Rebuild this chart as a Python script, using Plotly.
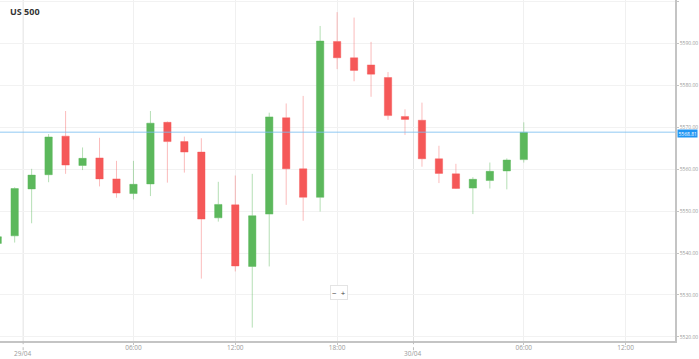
import plotly.graph_objects as go

title = "US 500"
times = ["28/04 22:00", "28/04 23:00", "29/04 00:00", "29/04 01:00", "29/04 02:00", "29/04 03:00",
         "29/04 04:00", "29/04 05:00", "29/04 06:00", "29/04 07:00", "29/04 08:00", "29/04 09:00",
         "29/04 10:00", "29/04 11:00", "29/04 12:00", "29/04 13:00", "29/04 14:00", "29/04 15:00",
         "29/04 16:00", "29/04 17:00", "29/04 18:00", "29/04 19:00", "29/04 20:00", "29/04 21:00",
         "29/04 22:00", "30/04 00:00", "30/04 01:00", "30/04 02:00", "30/04 03:00", "30/04 04:00",
         "30/04 05:00", "30/04 06:00"]
opens = [5542.3, 5544.1, 5555.3, 5558.7, 5567.9, 5560.9, 5562.7, 5557.7, 5554.2, 5556.5, 5571.2,
         5566.6, 5564.1, 5548.4, 5551.5, 5536.8, 5549.3, 5572.3, 5560.1, 5553.3, 5590.5, 5586.6,
         5584.9, 5581.9, 5572.6, 5571.7, 5562.5, 5558.9, 5555.5, 5557.3, 5559.6, 5562.3]
highs = [5544.6, 5555.7, 5560.1, 5568.4, 5573.9, 5565.2, 5567.5, 5562.0, 5562.0, 5573.9, 5571.4,
         5567.8, 5567.4, 5557.0, 5558.5, 5558.9, 5573.5, 5575.7, 5577.5, 5594.2, 5597.5, 5596.2,
         5590.4, 5583.2, 5574.3, 5575.9, 5565.6, 5561.3, 5558.1, 5561.6, 5562.6, 5571.2]
lows = [5541.5, 5542.5, 5547.1, 5556.9, 5558.9, 5559.8, 5555.9, 5553.2, 5552.8, 5553.6, 5556.8,
        5559.2, 5533.9, 5547.5, 5535.6, 5522.2, 5536.8, 5551.5, 5547.7, 5549.9, 5583.9, 5581.0,
        5577.3, 5571.8, 5568.2, 5560.6, 5556.7, 5555.3, 5549.3, 5555.4, 5555.2, 5561.6]
closes = [5543.9, 5555.4, 5558.6, 5567.7, 5561.0, 5562.6, 5557.7, 5554.3, 5556.4, 5571.0, 5566.6,
          5564.1, 5548.1, 5551.6, 5536.9, 5548.9, 5572.5, 5560.1, 5553.3, 5590.6, 5586.6, 5583.6,
          5582.7, 5572.8, 5571.9, 5562.5, 5559.0, 5555.4, 5557.6, 5559.5, 5562.2, 5568.81]

time_tick_pos = [8, 14, 20, 31, 37]
time_tick_text = ["06:00", "12:00", "18:00", "06:00", "12:00"]
date_tick_pos = [1.5, 24.5]
date_tick_text = ["29/04", "30/04"]
y_ticks = [5520, 5530, 5540, 5550, 5560, 5570, 5580, 5590, 5600]

GREEN = "rgb(92,184,92)"
RED = "rgb(245,88,88)"
FONT = "Open Sans"
TICKCOL = "#9a9a9a"

x = list(range(len(times)))

fig = go.Figure()
fig.add_trace(go.Candlestick(
    x=x, open=opens, high=highs, low=lows, close=closes,
    text=times, hoverinfo="text+y",
    increasing=dict(fillcolor=GREEN, line=dict(color="rgba(92,184,92,0.45)", width=1)),
    decreasing=dict(fillcolor=RED, line=dict(color="rgba(245,88,88,0.4)", width=1)),
    whiskerwidth=0, showlegend=False,
))

shapes = []
annotations = []
for d, t in zip(date_tick_pos, date_tick_text):
    shapes.append(dict(type="line", xref="x", yref="paper", x0=d, x1=d, y0=0, y1=1,
                       line=dict(color="#e2e2e2", width=1), layer="below"))
    shapes.append(dict(type="line", xref="x", yref="paper", x0=d, x1=d, y0=-0.027, y1=0,
                       line=dict(color="#bdbdbd", width=1, dash="dot")))
    annotations.append(dict(text=t, xref="x", yref="paper", x=d, y=-0.038, xanchor="center",
                            yanchor="middle", showarrow=False,
                            font=dict(family=FONT, size=6.5, color=TICKCOL)))
last = closes[-1]
shapes.append(dict(type="line", xref="paper", yref="y", x0=0, x1=1, y0=last, y1=last,
                   line=dict(color="rgba(120,190,240,0.55)", width=1.5)))

annotations += [
    dict(text="<b>" + title + "</b>", xref="paper", yref="paper", x=0.012, y=0.965,
         xanchor="left", yanchor="middle", showarrow=False,
         font=dict(family=FONT, size=9, color="#333")),
    dict(text=f"{last:.2f}", xref="paper", yref="y", x=1.003, y=last - 0.3, xanchor="left",
         yanchor="middle", showarrow=False, bgcolor="#2196f3", borderpad=0.5,
         font=dict(family=FONT, size=5, color="white")),
    dict(text="−  +", xref="paper", yref="paper", x=0.502, y=0.141, xanchor="center",
         yanchor="middle", showarrow=False, bgcolor="white", bordercolor="#e4e4e4",
         borderwidth=1, borderpad=1, font=dict(family=FONT, size=8, color="#444")),
]

fig.update_layout(
    width=699, height=359,
    margin=dict(l=0, r=24, t=0, b=18),
    paper_bgcolor="white", plot_bgcolor="white",
    boxgap=0.38,
    shapes=shapes, annotations=annotations,
    font=dict(family=FONT),
    xaxis=dict(range=[0.136, 39.91], tickmode="array", tickvals=time_tick_pos,
               ticktext=time_tick_text,
               showgrid=True, gridcolor="#f0f0f0", showline=True, linecolor="#c4c4c4",
               linewidth=1.5, ticks="outside", ticklen=2, tickcolor="#c4c4c4",
               ticklabelstandoff=-3,
               tickfont=dict(size=6.5, color=TICKCOL), zeroline=False,
               rangeslider=dict(visible=False), automargin=False),
    yaxis=dict(side="right", range=[5519.0, 5600.4], tickmode="array", tickvals=y_ticks,
               tickformat=".2f", showgrid=True, gridcolor="#f2f2f2", showline=True,
               linecolor="#c4c4c4", linewidth=1.5, ticks="outside", ticklen=2,
               tickcolor="#c4c4c4", tickfont=dict(size=5, color=TICKCOL), zeroline=False,
               automargin=False),
)

fig.write_html("out.html", config={"displayModeBar": False},
               post_script="document.body.style.margin='0';document.body.style.overflow='hidden';")
